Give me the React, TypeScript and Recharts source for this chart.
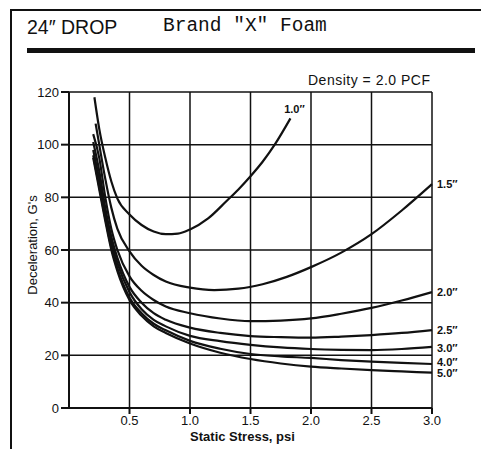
import { LineChart, Line, XAxis, YAxis, CartesianGrid } from 'recharts';

const xTicks = [0.5, 1.0, 1.5, 2.0, 2.5, 3.0];
const yTicks = [0, 20, 40, 60, 80, 100, 120];

const stress10 = [0.21, 0.25, 0.3, 0.35, 0.4, 0.5, 0.6, 0.7, 0.8, 0.9, 1.0, 1.15, 1.3, 1.4, 1.5, 1.6, 1.7, 1.83];
const drop10 = [118, 106, 95, 86, 79.5, 73.5, 69.5, 67, 66, 66.2, 67.8, 72, 78.5, 83, 88, 93.5, 100, 110];

const stress15 = [0.22, 0.25, 0.3, 0.35, 0.4, 0.5, 0.6, 0.7, 0.8, 1.0, 1.2, 1.4, 1.6, 1.8, 2.0, 2.25, 2.5, 2.75, 3.0];
const drop15 = [108, 100, 87, 76, 68, 59.5, 54, 50.5, 48, 45.7, 44.8, 45.3, 47, 49.8, 53.5, 59, 66, 75, 85];

const stressLong = [0.2, 0.25, 0.3, 0.35, 0.4, 0.5, 0.6, 0.7, 0.8, 1.0, 1.25, 1.5, 1.75, 2.0, 2.25, 2.5, 2.75, 3.0];
const drop20 = [104, 95, 80, 68, 60, 50, 44.5, 41, 38.5, 36, 34, 33, 33.2, 34, 35.8, 38, 40.8, 44];
const drop25 = [101, 90, 76, 65, 57, 46, 40, 36, 33.5, 30.5, 28.5, 27.3, 26.9, 26.7, 27.1, 27.7, 28.5, 29.6];
const drop30 = [98, 87, 74, 63, 55, 44, 37.5, 33.5, 31, 27.4, 25.4, 24, 23, 22.4, 22.1, 22, 22.4, 23.2];
const drop40 = [96, 84, 72, 61, 53, 42, 36, 32, 29.5, 25.5, 22.5, 20.5, 19.6, 19, 18.2, 17.6, 17.1, 16.7];
const drop50 = [95, 83, 71, 60, 52, 41, 35, 31, 28.5, 24.5, 21, 18.6, 16.9, 15.7, 15, 14.4, 13.9, 13.4];

const seriesNames = ['1.0"', '1.5"', '2.0"', '2.5"', '3.0"', '4.0"', '5.0"'];

const toRows = (xs: number[], ys: number[]) => xs.map((x, i) => ({ x, y: ys[i] }));

const series = [
  { name: seriesNames[0], data: toRows(stress10, drop10), dx: 4, dy: -9 },
  { name: seriesNames[1], data: toRows(stress15, drop15), dx: 5, dy: 0 },
  { name: seriesNames[2], data: toRows(stressLong, drop20), dx: 5, dy: 0 },
  { name: seriesNames[3], data: toRows(stressLong, drop25), dx: 5, dy: 0 },
  { name: seriesNames[4], data: toRows(stressLong, drop30), dx: 5, dy: 1 },
  { name: seriesNames[5], data: toRows(stressLong, drop40), dx: 5, dy: -2 },
  { name: seriesNames[6], data: toRows(stressLong, drop50), dx: 5, dy: 0 },
];

const INK = '#111';
const SANS = 'Liberation Sans, Arial, sans-serif';

function endLabel(name: string, last: number, dx: number, dy: number) {
  return (props: any) => {
    if (props.index !== last) return null;
    return (
      <text
        x={props.x + dx}
        y={props.y + dy}
        dy={4}
        fill={INK}
        fontSize={11}
        fontWeight={700}
        fontFamily={SANS}
        textAnchor={name === '1.0"' ? 'middle' : 'start'}
      >
        {name.replace('"', '\u2033')}
      </text>
    );
  };
}

function YTitle() {
  return (
    <text
      x={32}
      y={245}
      transform="rotate(-90, 32, 245)"
      textAnchor="middle"
      dominantBaseline="central"
      fill={INK}
      fontSize={13}
      fontFamily={SANS}
    >
      Deceleration, G's
    </text>
  );
}

export default function App() {
  return (
    <div style={{ position: 'absolute', left: 0, top: 0, width: 481, height: 449, background: '#fff', overflow: 'hidden' }}>
      {/* frame */}
      <div style={{ position: 'absolute', left: 10, top: 9, width: 2, height: 440, background: INK }} />
      <div style={{ position: 'absolute', left: 10, top: 9, width: 471, height: 2, background: INK }} />
      {/* heading */}
      <div style={{ position: 'absolute', left: 27, top: 16, fontFamily: SANS, fontSize: 19.5, color: INK, whiteSpace: 'nowrap' }}>
        24{'\u2033'} DROP
      </div>
      <div style={{ position: 'absolute', left: 163, top: 15, fontFamily: 'Liberation Mono, Courier New, monospace', fontSize: 19.5, color: INK, whiteSpace: 'nowrap' }}>
        Brand "X" Foam
      </div>
      <div style={{ position: 'absolute', left: 27, top: 48, width: 448, height: 5, background: INK }} />
      <div style={{ position: 'absolute', left: 308, top: 72, fontFamily: SANS, fontSize: 14, letterSpacing: 0.5, color: INK, whiteSpace: 'nowrap' }}>
        Density = 2.0 PCF
      </div>
      <div style={{ position: 'absolute', left: 0, top: 0 }}>
        <LineChart width={481} height={449} margin={{ top: 92, right: 49, bottom: 11, left: 9 }}>
          <CartesianGrid stroke={INK} strokeWidth={1.5} horizontalValues={yTicks} verticalValues={[0, ...xTicks]} />
          <XAxis
            type="number"
            dataKey="x"
            domain={[0, 3]}
            ticks={xTicks}
            allowDuplicatedCategory={false}
            height={30}
            stroke={INK}
            strokeWidth={2}
            tickSize={6}
            tickFormatter={(v: number) => v.toFixed(1)}
            tick={{ fill: INK, fontSize: 13, fontFamily: SANS }}
            label={{ value: 'Static Stress, psi', position: 'insideBottom', offset: -3, fill: INK, fontSize: 13, fontWeight: 700, fontFamily: SANS, dx: -8 }}
          />
          <YAxis
            type="number"
            domain={[0, 120]}
            ticks={yTicks}
            width={60}
            stroke={INK}
            strokeWidth={2}
            tickSize={8}
            tick={{ fill: INK, fontSize: 13, fontFamily: SANS }}
            label={<YTitle />}
          />
          {series.map((s) => (
            <Line
              key={s.name}
              data={s.data}
              dataKey="y"
              type="monotone"
              stroke={INK}
              strokeWidth={2.2}
              dot={false}
              isAnimationActive={false}
              label={endLabel(s.name, s.data.length - 1, s.dx, s.dy)}
            />
          ))}
        </LineChart>
      </div>
    </div>
  );
}
